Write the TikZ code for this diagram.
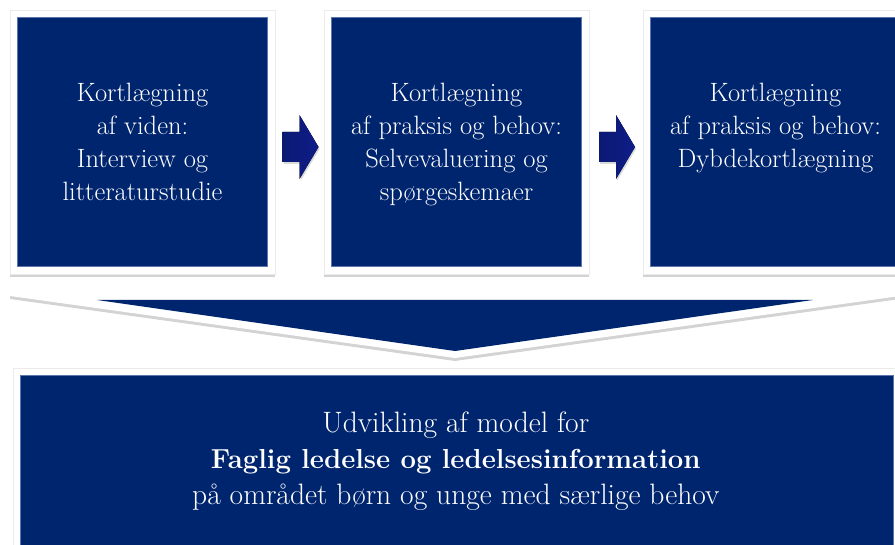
\documentclass[tikz,border=0pt]{standalone}
\usepackage{fontspec}
\usetikzlibrary{positioning,shadows,calc}

\definecolor{navy}{HTML}{00256F}
\definecolor{navyedge}{HTML}{5C76AE}
\definecolor{arrownavy}{HTML}{0E1D88}

\tikzset{
	frame/.style={fill=white, draw=black!8, line width=0.5pt, inner sep=0pt, minimum width=265pt, minimum height=264pt,
		drop shadow={shadow xshift=0pt, shadow yshift=-3pt, opacity=0.35}},
	bluebox/.style={fill=navy, draw=navyedge, line width=0.6pt, inner sep=0pt,
		minimum width=250pt, minimum height=249pt},
	boxtext/.style={text=white, align=center, inner sep=0pt, font=\fontsize{26.5}{33}\selectfont},
	blockarrow/.style={left color=arrownavy!85!black, right color=arrownavy,
		drop shadow={shadow xshift=1pt, shadow yshift=-2pt, opacity=0.3}}
}

\begin{document}
\begin{tikzpicture}[x=1pt, y=-1pt]
	\useasboundingbox (0,0) rectangle (895,545);

	% the three steps
	\node[frame] (f1) at (142.5,142) {};
	\node[frame] (f2) at (456.5,142) {};
	\node[frame] (f3) at (775.5,142) {};
	\node[bluebox] (b1) at (f1) {};
	\node[bluebox] (b2) at (f2) {};
	\node[bluebox] (b3) at (f3) {};

	\node[boxtext, below=66pt of b1.north] (t1) {Kortlægning\\af viden:\\Interview og\\litteraturstudie};
	\node[boxtext, below=66pt of b2.north] (t2) {Kortlægning\\af praksis og behov:\\Selvevaluering og\\spørgeskemaer};
	\node[boxtext, below=66pt of b3.north] (t3) {Kortlægning\\af praksis og behov:\\Dybdekortlægning};

	% arrows between the steps
	\foreach \a/\b/\n in {f1/f2/g1, f2/f3/g2} {
		\coordinate (\n) at ($(\a.east)!0.5!(\b.west)+(1,5)$);
		\fill[blockarrow] ($(\n)+(-18,-15)$) -- ($(\n)+(-1,-15)$) -- ($(\n)+(-1,-32)$)
			-- ($(\n)+(18,0)$) -- ($(\n)+(-1,32)$) -- ($(\n)+(-1,15)$) -- ($(\n)+(-18,15)$) -- cycle;
	}

	% big chevron down to the result
	\fill[white, drop shadow={shadow xshift=0pt, shadow yshift=-3pt, opacity=0.35}]
		(10,293) -- (900,293) -- (900,296) -- (455,358) -- (10,296) -- cycle;
	\fill[navy] (97,300) -- (813,300) -- (455,351) -- cycle;

	% result
	\node[frame, minimum width=887pt, minimum height=200pt, anchor=north west] (f4) at (13,368) {};
	\node[bluebox, minimum width=873pt, minimum height=186pt, anchor=north west] (b4) at (20,375) {};
	\node[boxtext, font=\fontsize{29.5}{36}\selectfont, below=37pt of b4.north, xshift=-1pt] (t4)
		{Udvikling af model for\\{\fontsize{27.5}{36}\selectfont\textbf{Faglig ledelse og ledelsesinformation}}\\på området børn og unge med særlige behov};
\end{tikzpicture}
\end{document}
